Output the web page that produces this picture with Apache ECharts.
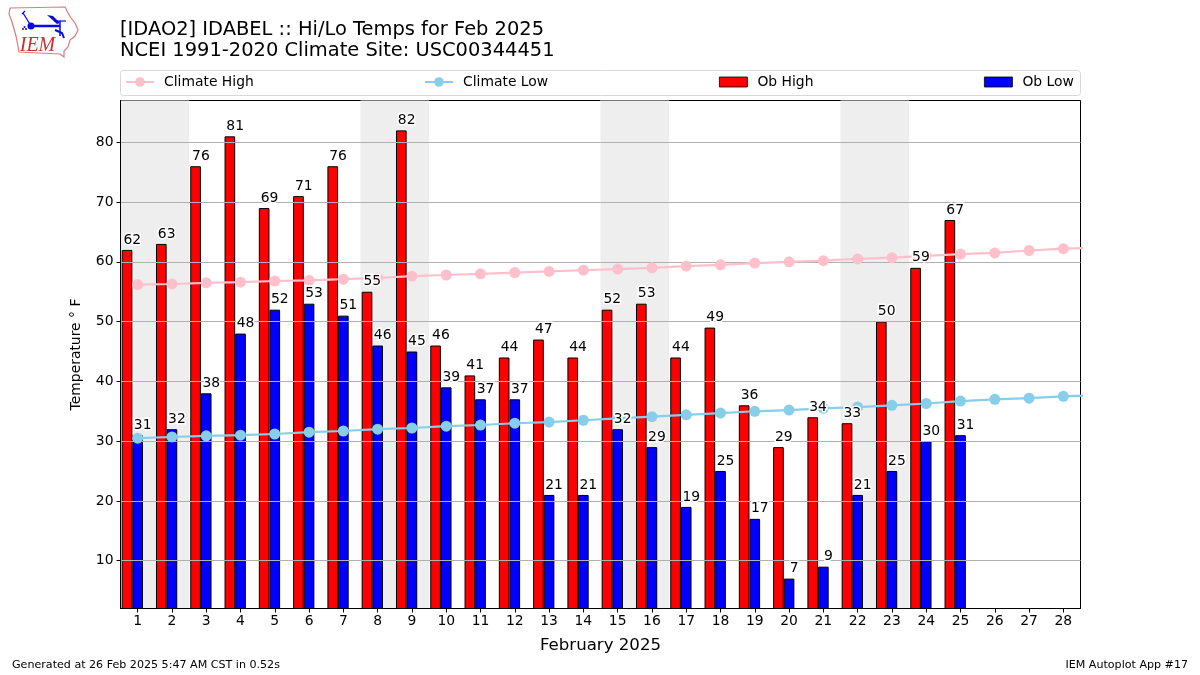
<!DOCTYPE html>
<html><head><meta charset="utf-8">
<style>html,body{margin:0;padding:0;background:#fff}#c{width:1200px;height:675px}</style>
<script src="https://cdn.jsdelivr.net/npm/echarts@6/dist/echarts.min.js"></script>
</head><body><div id="c"></div>
<script>
const titleLines = ['[IDAO2] IDABEL :: Hi/Lo Temps for Feb 2025', 'NCEI 1991-2020 Climate Site: USC00344451'];
const days = ['1','2','3','4','5','6','7','8','9','10','11','12','13','14','15','16','17','18','19','20','21','22','23','24','25','26','27','28'];
const climateDays = [1,2,3,4,5,6,7,8,9,10,11,12,13,14,15,16,17,18,19,20,21,22,23,24,25,26,27,28,29];
const obHigh = [62,63,76,81,69,71,76,55,82,46,41,44,47,44,52,53,44,49,36,29,34,33,50,59,67,null,null,null];
const obLow = [31,32,38,48,52,53,51,46,45,39,37,37,21,21,32,29,19,25,17,7,9,21,25,30,31,null,null,null];
const climateHigh = [56.2,56.3,56.5,56.6,56.8,56.9,57.1,57.3,57.6,57.8,58.0,58.2,58.4,58.6,58.8,59.0,59.3,59.5,59.8,60.0,60.2,60.5,60.7,61.0,61.3,61.5,61.9,62.2,62.4];
const climateLow = [30.5,30.7,30.9,31.0,31.2,31.5,31.7,32.0,32.2,32.5,32.7,33.0,33.2,33.5,33.8,34.1,34.4,34.7,35.0,35.2,35.5,35.7,36.0,36.3,36.7,37.0,37.2,37.5,37.7];
const yTicks = [10,20,30,40,50,60,70,80];
const weekends = [[0.5,2.5],[7.5,9.5],[14.5,16.5],[21.5,23.5]];

const FONT = '"DejaVu Sans"';
const lbl = (dx) => ({show:true, position:'top', distance:2.5, offset:[dx,0], color:'#000', fontFamily:FONT, fontSize:13.9,
  textBorderColor:'#fff', textBorderWidth:3, formatter:p=>p.value});
const chart = echarts.init(document.getElementById('c'), null, {renderer:'canvas'});
const legendAt = (name,left,icon)=>({show:true, left, top:75, data:[{name,icon}], itemWidth:28, itemHeight:icon?10:12, symbolSize:12, padding:0, selectedMode:false,
  itemStyle:{borderWidth:icon?0.8:0},
  textStyle:{color:'#000', fontFamily:FONT, fontSize:13.9, padding:[0,0,0,5]}});
const lineSeries = (name,vals,color)=>({name, type:'line', xAxisIndex:1, yAxisIndex:0, z:4, data:climateDays.map((d,i)=>[d,vals[i]]),
  symbol:'circle', symbolSize:11, showSymbol:true, lineStyle:{color,width:2.2}, itemStyle:{color,borderWidth:0}, clip:true, animation:false, silent:true});
const barSeries = (name,vals,color)=>({name, type:'bar', xAxisIndex:0, yAxisIndex:0, z:2, data:vals, barWidth:'31%', barGap:0,
  itemStyle:{color,borderColor:'#000',borderWidth:1}, animation:false, silent:true});
const labelSeries = (name,vals,dx)=>({name, type:'scatter', xAxisIndex:0, yAxisIndex:0, z:6, data:vals, symbolSize:1,
  itemStyle:{color:'transparent',opacity:1}, label:lbl(dx), animation:false, silent:true});

const blue = '#0a0ae0';
chart.setOption({
  animation:false,
  backgroundColor:'#fff',
  title:[
    {text:titleLines.join('\n'), left:120, top:19, padding:0, textStyle:{fontFamily:FONT,fontSize:19.45,fontWeight:'normal',color:'#000',lineHeight:21.5}},
    {text:'Generated at 26 Feb 2025 5:47 AM CST in 0.52s', left:12, top:660, padding:0, textStyle:{fontFamily:FONT,fontSize:11.1,fontWeight:'normal',color:'#000'}},
    {text:'IEM Autoplot App #17', right:12, top:660, padding:0, textStyle:{fontFamily:FONT,fontSize:11.1,fontWeight:'normal',color:'#000'}}
  ],
  legend:[legendAt('Climate High',125),legendAt('Climate Low',424),legendAt('Ob High',719,'rect'),legendAt('Ob Low',984,'rect')],
  grid:{left:120.5,top:100.5,width:960,height:508,show:true,borderColor:'#000',borderWidth:1,backgroundColor:'transparent',containLabel:false},
  xAxis:[
    {type:'category',data:days,boundaryGap:true,z:3,
     axisLine:{show:true,onZero:false,lineStyle:{color:'#000',width:1}},
     axisTick:{show:true,alignWithLabel:true,length:4,lineStyle:{color:'#000'}},
     axisLabel:{interval:0,color:'#000',fontFamily:FONT,fontSize:13.9,margin:6},
     splitLine:{show:false},
     name:'February 2025',nameLocation:'middle',nameGap:28.5,nameTextStyle:{fontFamily:FONT,fontSize:16.6,color:'#000'}},
    {type:'value',min:0.5,max:28.5,show:false,splitLine:{show:false}}
  ],
  yAxis:[{type:'value',min:2,max:87,z:3,
    axisLine:{show:true,onZero:false,lineStyle:{color:'#000',width:1}},
    axisTick:{show:true,length:4,lineStyle:{color:'#000'},customValues:yTicks},
    axisLabel:{color:'#000',fontFamily:FONT,fontSize:13.9,margin:7,customValues:yTicks},
    splitLine:{show:true,lineStyle:{color:'#b0b0b0',width:1}},
    name:'Temperature ° F',nameLocation:'middle',nameGap:37,nameRotate:90,nameTextStyle:{fontFamily:FONT,fontSize:13.9,color:'#000'}}],
  series:[
    {name:'Weekend',type:'line',xAxisIndex:1,yAxisIndex:0,z:1,data:[],silent:true,
     markArea:{silent:true,itemStyle:{color:'#eeeeee'},data:weekends.map(w=>[{xAxis:w[0]},{xAxis:w[1]}])}},
    barSeries('Ob High',obHigh,'#ff0000'),
    barSeries('Ob Low',obLow,'#0000ff'),
    {name:'spacer',type:'bar',xAxisIndex:0,yAxisIndex:0,data:[],barWidth:'31%',barGap:0,silent:true},
    lineSeries('Climate High',climateHigh,'#ffc0cb'),
    lineSeries('Climate Low',climateLow,'#87ceeb'),
    labelSeries('High labels',obHigh,-5.3),
    labelSeries('Low labels',obLow,5)
  ],
  graphic:[
    {type:'rect',z:-1,shape:{x:120.5,y:70.5,width:960,height:25,r:3},style:{fill:'#fff',stroke:'#d8d8d8',lineWidth:1},silent:true},
    {type:'polygon',shape:{points:[[10,8],[65,7],[68,13],[71,18],[75,23],[78,30],[75,36],[70,40],[68,47],[64,51],[64,57],[60,54],[19,52],[16,36],[12,22],[9,14]]},
     style:{fill:'#fff',stroke:'#e07a7a',lineWidth:1.2},silent:true},
    {type:'polyline',shape:{points:[[31,26],[60,26]]},style:{stroke:blue,lineWidth:2.5,fill:null},silent:true},
    {type:'circle',shape:{cx:31,cy:26,r:3.5},style:{fill:blue},silent:true},
    {type:'polyline',shape:{points:[[23,13],[28,21],[31,26]]},style:{stroke:blue,lineWidth:1.3,fill:null},silent:true},
    {type:'polyline',shape:{points:[[25,11],[22,14]]},style:{stroke:blue,lineWidth:1.3,fill:null},silent:true},
    {type:'polygon',shape:{points:[[47,15],[53,16],[60,23],[57,24]]},style:{fill:blue},silent:true},
    {type:'polyline',shape:{points:[[54,21],[66,21]]},style:{stroke:blue,lineWidth:1.2,fill:null},silent:true},
    {type:'polyline',shape:{points:[[60,21],[60,36]]},style:{stroke:blue,lineWidth:1.5,fill:null},silent:true},
    {type:'polyline',shape:{points:[[55,30],[62,33],[64,38]]},style:{stroke:blue,lineWidth:2,fill:null},silent:true},
    {type:'circle',shape:{cx:24.5,cy:27,r:1},style:{fill:blue},silent:true},
    {type:'circle',shape:{cx:23,cy:29,r:1},style:{fill:blue},silent:true},
    {type:'circle',shape:{cx:26,cy:29,r:1},style:{fill:blue},silent:true},
    {type:'text',style:{text:'IEM',x:37.5,y:46,align:'center',verticalAlign:'middle',fill:'#c9303a',font:'italic 20px "Liberation Serif"'},silent:true}
  ]
});
</script></body></html>
